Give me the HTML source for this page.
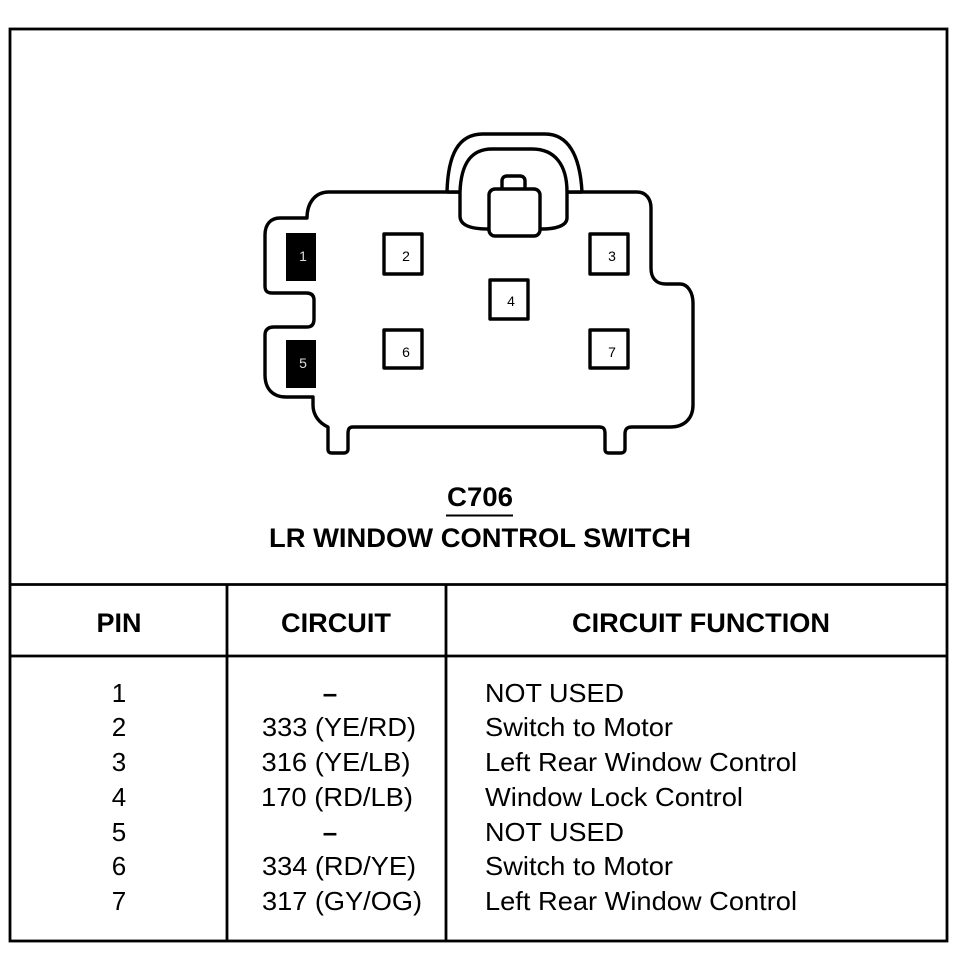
<!DOCTYPE html>
<html><head><meta charset="utf-8"><style>
html,body{margin:0;padding:0;background:#fff}
svg{display:block}
text{font-family:"Liberation Sans",sans-serif;fill:#000}
.r{font-size:26px}.b{font-size:27px;font-weight:bold}
.m{text-anchor:middle}
</style></head><body>
<svg width="968" height="960" viewBox="0 0 968 960" xmlns="http://www.w3.org/2000/svg">
<g fill="none" stroke="#000" stroke-width="2.8">
<rect x="10" y="29" width="937" height="912"/>
<path d="M10 584.5H948M10 656H948M227 584V941M446 584V941"/>
</g>
<g fill="none" stroke="#000" stroke-width="3.4" stroke-linejoin="round">
<path fill="#fff" d="M307 218C307 203 315 192 329 192H637C646 192 651 199 651 208V268C651 278 656 284 666 284H680C688 284 693 293 693 303V405C693 418 685 427 670 427H632C627 427 625 429 625 434V449C625 452 623 453 621 453H609C606 453 605 452 605 449V434C605 429 604 427 599 427H353C349 427 348 429 348 434V449C348 452 346 453 344 453H332C329 453 328 452 328 449V427C319 423 313 415 313 405V397H286C272 397 265 388 265 375V335C265 329 269 327 274 327H307C312 327 314 324 314 319V300C314 295 311 293 306 293H272C267 293 265 291 265 286V235C265 224 271 218 280 218Z"/>
<path fill="#fff" d="M447 192C448 155 458 134 483 134H545C568 134 580 155 582 192"/>
<path fill="#fff" d="M460 192C461 165 470 149 492 149H532C555 149 567 165 567 192V218C567 226 555 229 542 229H488C472 229 460 226 460 216Z"/>
<path fill="#fff" d="M502 189V181C502 178 504 176 507 176H520C523 176 525 178 525 181V189"/>
<rect x="489" y="189" width="51" height="47" rx="6" fill="#fff"/>
<path d="M447 192H460M567 192H582"/>
<rect x="384" y="234" width="38" height="40" fill="#fff"/>
<rect x="590" y="234" width="38" height="40" fill="#fff"/>
<rect x="490" y="280" width="38" height="39" fill="#fff"/>
<rect x="384" y="330" width="38" height="38" fill="#fff"/>
<rect x="590" y="330" width="38" height="38" fill="#fff"/>
</g>
<rect x="286" y="233" width="30" height="48" fill="#000"/>
<rect x="286" y="340" width="30" height="48" fill="#000"/>
<g font-size="14" class="m">
<text x="303" y="261" class="m" font-size="14" style="fill:#ddd">1</text>
<text x="303" y="368" class="m" font-size="14" style="fill:#ddd">5</text>
<text x="406" y="261" class="m" font-size="14">2</text>
<text x="612" y="261" class="m" font-size="14">3</text>
<text x="511" y="306" class="m" font-size="14">4</text>
<text x="406" y="357" class="m" font-size="14">6</text>
<text x="612" y="357" class="m" font-size="14">7</text>
</g>
<text x="480" y="506" class="b m" textLength="66" lengthAdjust="spacingAndGlyphs">C706</text>
<path d="M446 515.5H513" stroke="#000" stroke-width="2"/>
<text x="480" y="547" class="b m" textLength="422" lengthAdjust="spacingAndGlyphs">LR WINDOW CONTROL SWITCH</text>
<text x="119" y="632" class="b m" textLength="45" lengthAdjust="spacingAndGlyphs">PIN</text>
<text x="336" y="632" class="b m" textLength="110" lengthAdjust="spacingAndGlyphs">CIRCUIT</text>
<text x="701" y="632" class="b m" textLength="258" lengthAdjust="spacingAndGlyphs">CIRCUIT FUNCTION</text>
<g class="r">
<text class="r m" x="119" y="702">1</text>
<text class="r m" x="119" y="736">2</text>
<text class="r m" x="119" y="771">3</text>
<text class="r m" x="119" y="806">4</text>
<text class="r m" x="119" y="841">5</text>
<text class="r m" x="119" y="875">6</text>
<text class="r m" x="119" y="910">7</text>
<text class="r m" x="330" y="702" font-weight="bold">–</text>
<text class="r m" x="339" y="736" textLength="154" lengthAdjust="spacingAndGlyphs">333 (YE/RD)</text>
<text class="r m" x="336" y="771" textLength="149" lengthAdjust="spacingAndGlyphs">316 (YE/LB)</text>
<text class="r m" x="337" y="806" textLength="152" lengthAdjust="spacingAndGlyphs">170 (RD/LB)</text>
<text class="r m" x="330" y="841" font-weight="bold">–</text>
<text class="r m" x="339" y="875" textLength="154" lengthAdjust="spacingAndGlyphs">334 (RD/YE)</text>
<text class="r m" x="342" y="910" textLength="160" lengthAdjust="spacingAndGlyphs">317 (GY/OG)</text>
<text class="r" x="485" y="702" textLength="139" lengthAdjust="spacingAndGlyphs">NOT USED</text>
<text class="r" x="485" y="736" textLength="188" lengthAdjust="spacingAndGlyphs">Switch to Motor</text>
<text class="r" x="485" y="771" textLength="312" lengthAdjust="spacingAndGlyphs">Left Rear Window Control</text>
<text class="r" x="485" y="806" textLength="258" lengthAdjust="spacingAndGlyphs">Window Lock Control</text>
<text class="r" x="485" y="841" textLength="139" lengthAdjust="spacingAndGlyphs">NOT USED</text>
<text class="r" x="485" y="875" textLength="188" lengthAdjust="spacingAndGlyphs">Switch to Motor</text>
<text class="r" x="485" y="910" textLength="312" lengthAdjust="spacingAndGlyphs">Left Rear Window Control</text>
</g>
</svg>
</body></html>
